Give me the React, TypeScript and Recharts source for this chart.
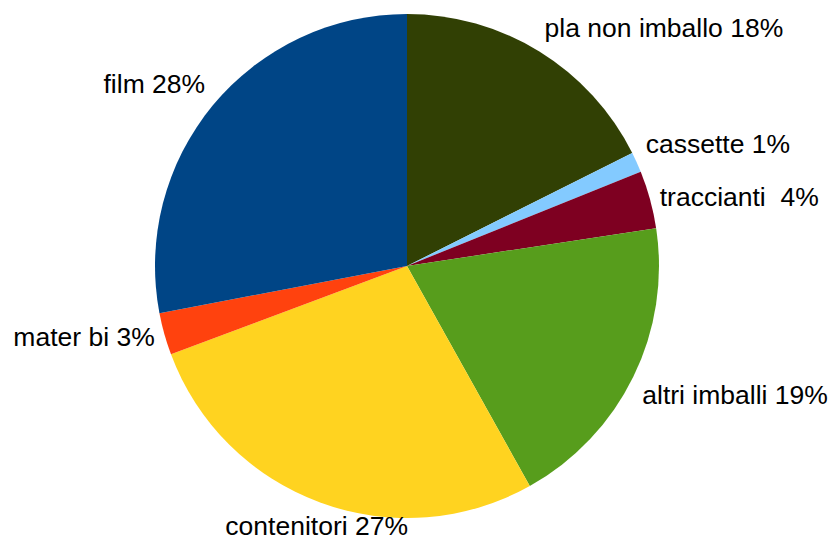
import React from 'react';
import { PieChart, Pie, Cell } from 'recharts';

const categories = ['pla non imballo', 'cassette', 'traccianti ', 'altri imballi', 'contenitori', 'mater bi', 'film'];
const values = [17.6, 1.3, 3.7, 19.3, 27.4, 2.7, 28.0];
const COLORS = ['#314004', '#83CAFF', '#7E0021', '#579D1C', '#FFD320', '#FF420E', '#004586'];

const data = categories.map((name, i) => ({ name, value: values[i] }));
const total = values.reduce((a, b) => a + b, 0);

const RADIAN = Math.PI / 180;
const FONT = 26.5;
const LIMIT = Math.sin(22.5 * RADIAN);

function renderLabel(props: any) {
  const { cx, cy, midAngle, outerRadius, index } = props;
  const ux = Math.cos(midAngle * RADIAN);
  const uy = -Math.sin(midAngle * RADIAN);
  const ax = cx + (outerRadius + 10) * ux;
  const ay = cy + (outerRadius + 10) * uy;

  let anchor: 'start' | 'middle' | 'end' = 'middle';
  if (ux > LIMIT) anchor = 'start';
  else if (ux < -LIMIT) anchor = 'end';

  // baseline placement: box bottom / top / middle at the anchor point
  let baseline = ay + FONT * 0.35;
  if (uy < -LIMIT) baseline = ay - FONT * 0.21;
  else if (uy > LIMIT) baseline = ay + FONT * 0.86;

  const pct = Math.round((values[index] / total) * 100);
  return (
    <text
      x={ax}
      y={baseline}
      textAnchor={anchor}
      fill="#000"
      fontSize={FONT}
      fontFamily='"Liberation Sans", Arial, sans-serif'
      style={{ whiteSpace: 'pre' }}
    >
      {`${categories[index]} ${pct}%`}
    </text>
  );
}

export default function App() {
  return (
    <div style={{ position: 'absolute', left: 0, top: 0, background: '#fff' }}>
      <PieChart width={833} height={538} margin={{ top: 0, right: 0, bottom: 0, left: 0 }}>
        <Pie
          data={data}
          dataKey="value"
          cx={407}
          cy={266}
          outerRadius={252}
          startAngle={90}
          endAngle={-270}
          stroke="none"
          labelLine={false}
          label={renderLabel}
          isAnimationActive={false}
        >
          {data.map((entry, index) => (
            <Cell key={`cell-${index}`} fill={COLORS[index]} />
          ))}
        </Pie>
      </PieChart>
    </div>
  );
}
